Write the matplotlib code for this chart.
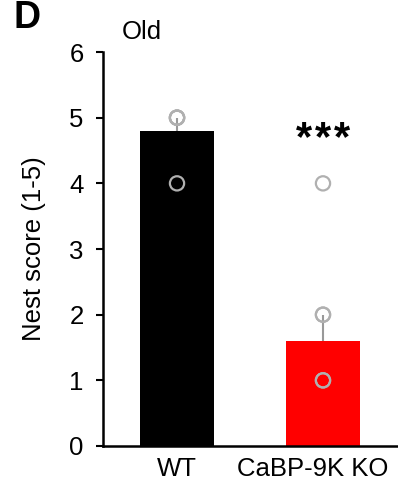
import matplotlib
matplotlib.use("Agg")
import matplotlib.pyplot as plt
from matplotlib.transforms import ScaledTranslation, offset_copy

plt.rcParams['font.family'] = ['Liberation Sans', 'DejaVu Sans']

groups = ["WT", "CaBP-9K KO"]
means = [4.8, 1.6]
sems = [0.2, 0.4]
bar_colors = ["#000000", "#ff0000"]
wt_points = [5, 5, 5, 5, 4]
ko_points = [4, 2, 2, 1, 1]
yticks = [0, 1, 2, 3, 4, 5, 6]
significance = "***"

fig = plt.figure(figsize=(3.98, 4.90), dpi=100)
ax = fig.add_axes([0.2588, 0.0898, 0.7387, 0.804])

x = [0, 1]
ax.bar(x, means, width=0.505, color=bar_colors, zorder=2)
ax.errorbar(x, means, yerr=[[0, 0], sems], fmt='none', ecolor='#999999',
            elinewidth=1.5, capsize=0, zorder=3)

for xi, pts in zip(x, [wt_points, ko_points]):
    ax.scatter([xi] * len(pts), pts, s=105, facecolors='none',
               edgecolors='#b0b0b0', linewidths=1.6, zorder=4)

# widely spaced significance stars above the KO bar
n = len(significance)
for i, ch in enumerate(significance):
    dx = (i - (n - 1) / 2) * 19
    tr = offset_copy(ax.transData, fig=fig, x=dx, y=0, units='dots')
    ax.text(1, 4.37, ch, ha='center', va='bottom', fontsize=30,
            fontweight='bold', transform=tr)

ax.set_xlim(-0.507, 1.507)
ax.set_ylim(0, 6)
ax.set_yticks(yticks)
ax.set_xticks(x)
ax.set_xticklabels(groups, fontsize=18.5)
ax.tick_params(axis='x', length=0, pad=8)
ax.tick_params(axis='y', labelsize=18.5, width=1.5, length=5, pad=9)
ax.set_ylabel("Nest score (1-5)", fontsize=18.5, labelpad=17)

# keep the long group name inside the figure
lbl = ax.get_xticklabels()[1]
lbl.set_transform(lbl.get_transform() +
                  ScaledTranslation(-10 / 100, 0, fig.dpi_scale_trans))

for side in ['top', 'right']:
    ax.spines[side].set_visible(False)
for side in ['left', 'bottom']:
    ax.spines[side].set_linewidth(1.8)

fig.text(0.035, 1.0, "D", fontsize=27, fontweight='bold', ha='left', va='top')
fig.text(0.305, 0.935, "Old", fontsize=18.5, ha='left', va='center')

fig.savefig("out.png", dpi=100)
